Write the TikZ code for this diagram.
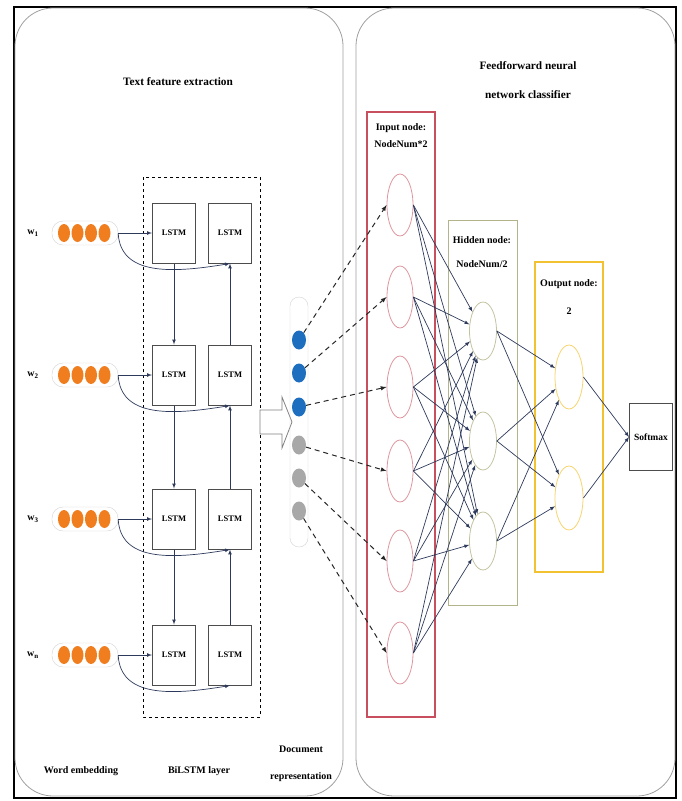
\documentclass[tikz,border=0pt]{standalone}
\usepackage{fontspec}
\setmainfont{Liberation Serif}
\usepackage{xcolor}
\usetikzlibrary{shapes.geometric}
\definecolor{embcol}{HTML}{F07D1E}
\definecolor{docblue}{HTML}{1E6EC0}
\definecolor{docgray}{HTML}{A8A8A8}
\definecolor{inred}{HTML}{C8505E}
\definecolor{hidolive}{HTML}{B4B48A}
\definecolor{outgold}{HTML}{F2C230}
\definecolor{navy}{HTML}{2E3A5C}
\newcommand\boxcol{gray!60!black}

\begin{document}
\begin{tikzpicture}[x=1pt,y=-1pt,
    >=latex,
    panel/.style={draw=gray!75,line width=0.8pt,rounded corners=38pt},
    pill/.style={draw=gray!35,rounded corners=11pt,minimum width=66pt,minimum height=24pt},
    lstm/.style={draw=\boxcol,line width=1pt,minimum width=43pt,minimum height=60pt,font=\bfseries\fontsize{8.5}{10}\selectfont},
    txt/.style={font=\bfseries\fontsize{10}{12}\selectfont,align=center},
    ttl/.style={font=\bfseries\fontsize{11.3}{13.5}\selectfont,align=center},
    dot/.style={ellipse,inner sep=0pt,minimum width=14pt,minimum height=19pt},
    incirc/.style={ellipse,draw=inred!60,line width=0.8pt,minimum width=26pt,minimum height=62pt},
    hidcirc/.style={ellipse,draw=hidolive!80,line width=0.8pt,minimum width=27pt,minimum height=58pt},
    outcirc/.style={ellipse,draw=outgold!70,line width=0.8pt,minimum width=28pt,minimum height=64pt},
    link/.style={->,draw=navy,line width=0.7pt},
    dlink/.style={->,draw=gray!30!black,line width=1pt,dash pattern=on 5pt off 4pt}
  ]
    \useasboundingbox (0,0) rectangle (682,801);
    \draw[line width=1.5pt] (14,7) rectangle (676,798);
    \draw[panel] (15,8) rectangle (343,796);
    \draw[panel] (356,8) rectangle (675,796);

    % left part
    \node[ttl] (ltitle) at (178,82) {Text feature extraction};
    \draw[dashed,line width=0.7pt] (143,177) rectangle (260,717);

    \foreach \i/\y/\w in {1/233/1,2/375/2,3/519/3,4/655/n}{
      \node[txt] (w\i) at (33,\y) {w\textsubscript{\w}};
      \node[pill] (e\i) at (85,\y) {};
      \foreach \k in {0,...,3}
        \fill[embcol] (64+13.5*\k,\y) ellipse (6 and 9);
      \node[lstm] (f\i) at (174,\y) {LSTM};
      \node[lstm] (b\i) at (230,\y) {LSTM};
      \draw[link] (e\i.east) -- (f\i.west);
      \draw[link] (e\i.east) .. controls +(2,42) and +(-60,10) .. (b\i.south);
    }
    \foreach \i [count=\j from 2] in {1,2,3}{
      \draw[link] (f\i) -- (f\j);
      \draw[link] (b\j) -- (b\i);
    }

    \draw[gray,line width=0.8pt,fill=white] (260,410) -- (282,410) -- (282,397) -- (292,422)
      -- (282,448) -- (282,434) -- (260,434) -- cycle;

    \node[draw=gray!35,rounded corners=9pt,minimum width=18pt,minimum height=250pt] (doc) at (299,422) {};
    \foreach \i/\y/\c in {1/340/docblue,2/373/docblue,3/407/docblue,4/445/docgray,5/478/docgray,6/511/docgray}
      \node[dot,fill=\c] (d\i) at (299,\y) {};

    \node[txt] (wemb) at (81,771) {Word embedding};
    \node[txt] (bil) at (199,771) {BiLSTM layer};
    \node[txt] (drep) at (301,764) {Document\\[15pt]representation};

    % right part
    \node[ttl] (rtitle) at (528,80) {Feedforward neural\\[16pt]network classifier};

    \draw[inred,line width=1.2pt] (367,112) rectangle (435,717);
    \draw[hidolive,line width=1pt] (448,220) rectangle (517,605);
    \draw[outgold,line width=1.2pt] (535,262) rectangle (603,572);

    \node[txt] (inlab) at (401,136) {Input node:\\[5pt]NodeNum*2};
    \node[txt] (hidlab) at (482,252.5) {Hidden node:\\[12pt]NodeNum/2};
    \node[txt] (outlab) at (569,297.5) {Output node:\\[16pt]2};

    \foreach \i/\y in {1/205,2/297,3/387,4/471,5/561,6/653}
      \node[incirc] (i\i) at (400,\y) {};
    \foreach \i/\y in {1/331,2/441,3/541}
      \node[hidcirc] (h\i) at (483,\y) {};
    \foreach \i/\y in {1/377,2/498}
      \node[outcirc] (o\i) at (569,\y) {};
    \node[draw=\boxcol,line width=1pt,minimum width=43pt,minimum height=67pt,
      font=\bfseries\fontsize{9.5}{11}\selectfont] (soft) at (651,437) {Softmax};

    \foreach \a in {1,...,6}
      \draw[dlink] (d\a) -- (i\a.west);
    \foreach \a in {1,...,6}
      \foreach \b in {1,2,3}
        \draw[link] (i\a.east) -- (h\b);
    \foreach \a in {1,2,3}
      \foreach \b in {1,2}
        \draw[link] (h\a.east) -- (o\b);
    \foreach \a in {1,2}
      \draw[link] (o\a.east) -- (soft.west);

  \end{tikzpicture}
\end{document}
